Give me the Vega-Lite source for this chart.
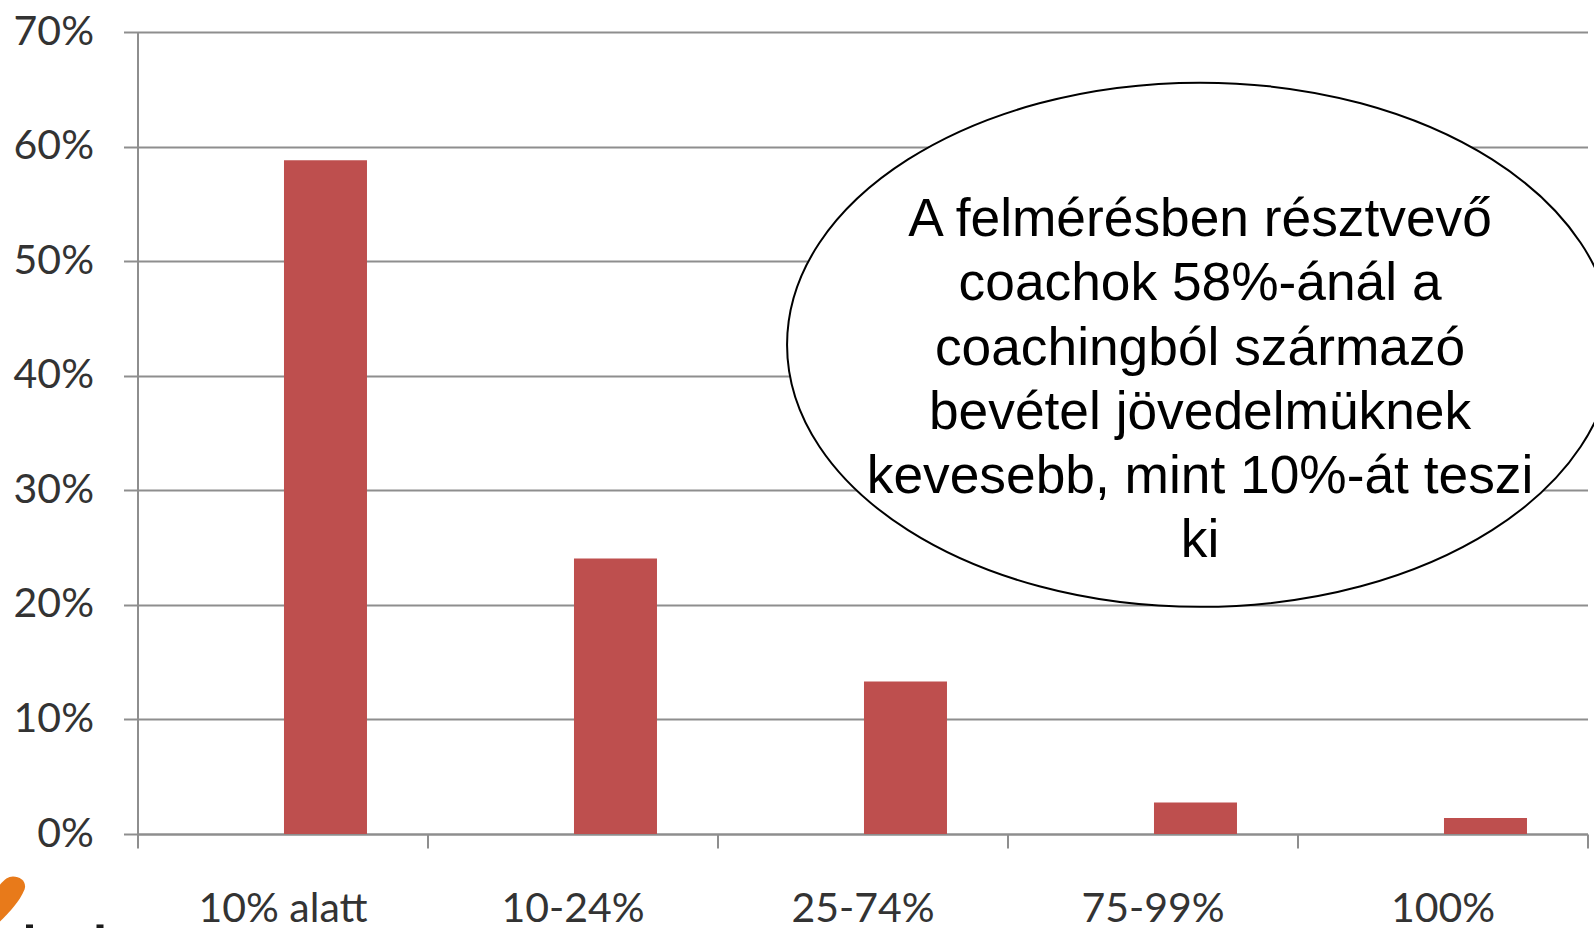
{
 "$schema":"https://vega.github.io/schema/vega-lite/v6.json",
 "width":1450,"height":802,"autosize":{"type":"none"},
 "padding":{"left":137.5,"top":32,"right":6.5,"bottom":94},
 "background":"white",
 "config":{"view":{"stroke":null}},
 "datasets":{
  "bars":[
   {"cat":"10% alatt","series":"B","v":0.588},
   {"cat":"10-24%","series":"B","v":0.2405},
   {"cat":"25-74%","series":"B","v":0.133},
   {"cat":"75-99%","series":"B","v":0.0275},
   {"cat":"100%","series":"B","v":0.014}
  ],
  "oval":[{"px":3.664,"v":0.427}],
  "lines":[
   {"px":3.664,"v":0.5358,"t":"A felmérésben résztvevő"},
   {"px":3.664,"v":0.48,"t":"coachok 58%-ánál a"},
   {"px":3.664,"v":0.4232,"t":"coachingból származó"},
   {"px":3.664,"v":0.3673,"t":"bevétel jövedelmüknek"},
   {"px":3.664,"v":0.3113,"t":"kevesebb, mint 10%-át teszi"},
   {"px":3.664,"v":0.2555,"t":"ki"}
  ],
  "logo":[{"px":-0.4328,"v":-0.0484}],
  "logoText":[{"px":-0.3724,"v":-0.082},{"px":-0.1293,"v":-0.082}]
 },
 "layer":[
  {"data":{"name":"bars"},
   "mark":{"type":"bar","color":"#BE4F4E"},
   "encoding":{
    "x":{"field":"cat","type":"nominal","sort":["10% alatt","10-24%","25-74%","75-99%","100%"],
     "scale":{"paddingInner":0,"paddingOuter":0},
     "axis":{"title":null,"labelAngle":0,"tickBand":"extent","tickSize":14,"tickWidth":2,"tickColor":"#8E8E8E","domainColor":"#8E8E8E","domainWidth":2,"labelFont":"Lato","labelFontSize":41,"labelColor":"#333333","labelPadding":41,"labelBaseline":"top"}},
    "xOffset":{"field":"series","type":"nominal","scale":{"domain":["A","B"],"paddingInner":0,"paddingOuter":0.747,"align":0.512}},
    "y":{"field":"v","type":"quantitative","scale":{"domain":[0,0.7]},
     "axis":{"title":null,"values":[0,0.1,0.2,0.3,0.4,0.5,0.6,0.7],"format":".0%","grid":true,"gridColor":"#8E8E8E","gridWidth":2,"tickSize":14,"tickWidth":2,"tickColor":"#8E8E8E","domainColor":"#8E8E8E","domainWidth":2,"labelFont":"Lato","labelFontSize":41,"labelColor":"#333333","labelPadding":30}}
   }},
  {"data":{"name":"oval"},
   "mark":{"type":"point","filled":true,"fill":"white","stroke":"black","strokeWidth":2,"opacity":1,"size":682276,"clip":false,
    "shape":"M-1,0 A1,0.6346 0 1,1 1,0 A1,0.6346 0 1,1 -1,0 Z"},
   "encoding":{
    "x":{"field":"px","type":"quantitative","scale":{"domain":[0,5]},"axis":null},
    "y":{"field":"v","type":"quantitative"}
   }},
  {"data":{"name":"lines"},
   "mark":{"type":"text","font":"Liberation Sans","fontSize":53.3,"color":"black","align":"center","baseline":"middle"},
   "encoding":{
    "x":{"field":"px","type":"quantitative","scale":{"domain":[0,5]},"axis":null},
    "y":{"field":"v","type":"quantitative"},
    "text":{"field":"t"}
   }},
  {"data":{"name":"logo"},
   "mark":{"type":"point","filled":true,"fill":"#E87A1A","stroke":null,"opacity":1,"size":2500,"clip":false,
    "shape":"M-0.48,-0.2 C-0.3,-0.4 -0.15,-0.52 0.04,-0.52 C0.35,-0.52 0.6,-0.3 0.5,0 C0.3,0.5 -0.1,0.9 -0.48,1.28 Z"},
   "encoding":{
    "x":{"field":"px","type":"quantitative","scale":{"domain":[0,5]},"axis":null},
    "y":{"field":"v","type":"quantitative"}
   }},
  {"data":{"name":"logoText"},
   "mark":{"type":"point","shape":"square","filled":true,"fill":"#1a1a1a","stroke":null,"opacity":1,"size":49,"clip":false},
   "encoding":{
    "x":{"field":"px","type":"quantitative","scale":{"domain":[0,5]},"axis":null},
    "y":{"field":"v","type":"quantitative"}
   }}
 ],
 "resolve":{"scale":{"x":"independent"}}
}
